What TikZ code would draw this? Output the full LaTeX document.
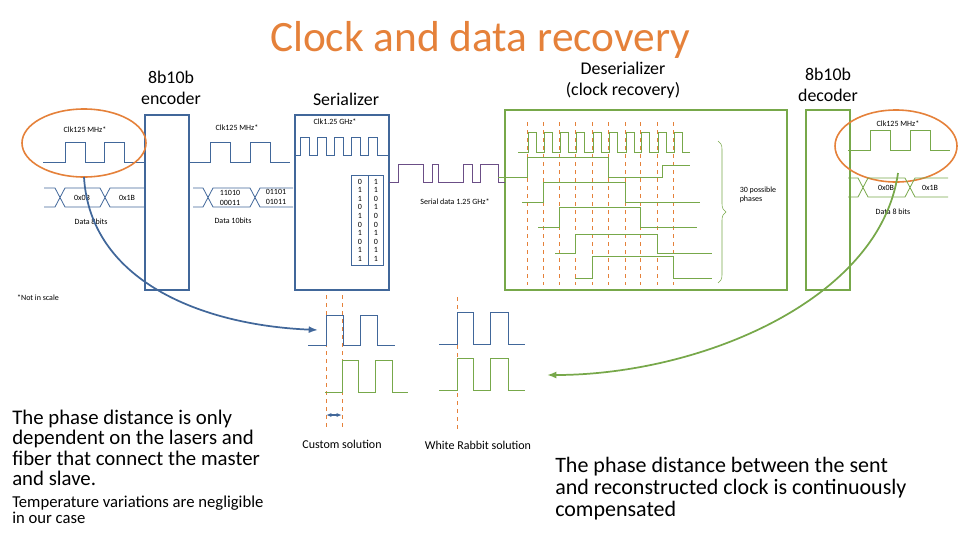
\documentclass[tikz,border=0pt]{standalone}
\usepackage{fontspec}
\setmainfont{Carlito}
\usetikzlibrary{decorations.pathreplacing,arrows.meta}
\definecolor{wrblue}{HTML}{41679A}
\definecolor{wrgreen}{HTML}{77A84A}
\definecolor{wrorange}{HTML}{E5813A}
\definecolor{wrpurple}{HTML}{6B4E86}
\begin{document}
\begin{tikzpicture}[x=0.75pt,y=-0.75pt,
  box/.style={draw=wrblue,line width=1.5pt},
  gbox/.style={draw=wrgreen,line width=1.5pt},
  wave/.style={line width=0.6pt},
  odash/.style={draw=wrorange,dashed,line width=0.6pt},
  tiny/.style={font=\fontsize{6}{7}\selectfont,align=center},
  head/.style={font=\fontsize{13.4}{16}\selectfont,align=center},
  big/.style={font=\fontsize{15.6}{15.2}\selectfont,align=left,anchor=north west}]
\useasboundingbox (0,0) rectangle (960,540);
% title and headings
\node[text=wrorange,font=\fontsize{32.5}{33}\selectfont] (title) at (480,40) {Clock and data recovery};
\node[head] (enc) at (171,88) {8b10b\\encoder};
\node[head] (ser) at (346,99) {Serializer};
\node[head] (des) at (623,80) {Deserializer\\(clock recovery)};
\node[head] (dec) at (828,85) {8b10b\\decoder};
% blocks
\draw[box] (145,115) rectangle (189,290);
\draw[box] (295,115) rectangle (389,290);
\draw[gbox] (505,110) rectangle (787,290);
\draw[gbox] (806,110) rectangle (850,290);
% encoder input
\node[tiny] (clka) at (85,130) {Clk125 MHz*};
\draw[wave,wrblue] (43,162) -- (65,162) -- (65,142) -- (85,142) -- (85,162) -- (104,162) -- (104,142) -- (124,142) -- (124,162) -- (145,162);
\draw[wrorange,line width=1.2pt] (84,143) ellipse (62 and 34);
\draw[wave,wrblue] (44,188) -- (55,188) -- (65,207) -- (100,207) -- (110,188) -- (145,188)
  (44,207) -- (55,207) -- (65,188) -- (100,188) -- (110,207) -- (145,207);
\node[tiny] (da) at (82,198) {0x0B};
\node[tiny] (db) at (127,198) {0x1B};
\node[tiny] (dla) at (91,222) {Data 8bits};
% encoder output
\node[tiny] (clkb) at (237,128) {Clk125 MHz*};
\draw[wave,wrblue] (189,162) -- (210,162) -- (210,142) -- (230,142) -- (230,162) -- (250,162) -- (250,142) -- (270,142) -- (270,162) -- (290,162);
\draw[wave,wrblue] (193,188) -- (203,188) -- (213,207) -- (250,207) -- (260,188) -- (293,188)
  (193,207) -- (203,207) -- (213,188) -- (250,188) -- (260,207) -- (293,207);
\node[tiny] (dc) at (230,198) {11010\\00011};
\node[tiny] (dd) at (276,197) {01101\\01011};
\node[tiny] (dlb) at (233,221) {Data 10bits};
% serializer
\node[tiny] (clkc) at (335,122) {Clk1.25 GHz*};
\draw[wave,wrblue] (295,155) foreach \i in {0,...,4} {-- (300+17*\i,155) -- (300+17*\i,137) -- (309+17*\i,137) -- (309+17*\i,155)} -- (388,155);
\draw[wrblue,line width=0.5pt] (351,175) rectangle (368,265) (368,175) rectangle (383,265);
\foreach \b [count=\k] in {0,1,1,0,1,0,1,0,1,1} \node[tiny,inner sep=0pt] (ba\k) at (360,173+8.6*\k) {\b};
\foreach \b [count=\k] in {1,1,0,1,0,0,1,0,1,1} \node[tiny,inner sep=0pt] (bb\k) at (376,173+8.6*\k) {\b};
\draw[wave,wrpurple] (389,182) -- (398,182) -- (398,164) -- (423,164) -- (423,182) -- (432,182) -- (432,164) -- (438,164) -- (438,182) -- (463,182) -- (463,164) -- (472,164) -- (472,182) -- (480,182) -- (480,164) -- (498,164) -- (498,182) -- (505,182);
\node[tiny] (sd) at (455,202) {Serial data 1.25 GHz*};
% deserializer
\foreach \x in {527,543,559,575,592,608,625,640,657,673} \draw[odash] (\x,122) -- (\x,285);
\draw[wave,wrgreen] (518,152) foreach \x in {527,543,559,575,592,608,625,640,657,673} {-- (\x+1,152) -- (\x+1,132) -- (\x+9,132) -- (\x+9,152)} -- (690,152);
\draw[wave,wrgreen] (498,177) -- (527,177) -- (527,157) -- (608,157) -- (608,177) -- (662,177) -- (662,165) -- (690,165);
\draw[wave,wrgreen] (522,202) -- (543,202) -- (543,182) -- (625,182) -- (625,202) -- (700,202);
\draw[wave,wrgreen] (538,227) -- (559,227) -- (559,207) -- (640,207) -- (640,227) -- (697,227);
\draw[wave,wrgreen] (555,253) -- (575,253) -- (575,234) -- (657,234) -- (657,253) -- (712,253);
\draw[wave,wrgreen] (575,278) -- (592,278) -- (592,256) -- (673,256) -- (673,278) -- (712,278);
\draw[wrgreen,decorate,decoration={brace,amplitude=6pt}] (718,141) -- (718,283);
\node[tiny,align=left] (ph) at (758,195) {30 possible\\phases};
% decoder
\node[tiny] (clkd) at (898,124) {Clk125 MHz*};
\draw[wave,wrgreen] (848,150) -- (870,150) -- (870,130) -- (890,130) -- (890,150) -- (910,150) -- (910,130) -- (930,130) -- (930,150) -- (950,150);
\draw[wrorange,line width=1.2pt] (896,146) ellipse (61 and 36);
\draw[wave,wrgreen] (848,178) -- (858,178) -- (868,197) -- (905,197) -- (915,178) -- (948,178)
  (848,197) -- (858,197) -- (868,178) -- (905,178) -- (915,197) -- (948,197);
\node[tiny] (de) at (886,188) {0x0B};
\node[tiny] (df) at (930,188) {0x1B};
\node[tiny] (dlc) at (893,212) {Data 8 bits};
\node[tiny] (nis) at (38,298) {*Not in scale};
% bottom comparison
\draw[odash] (326,295) -- (326,430) (342,295) -- (342,430) (457,297) -- (457,430);
\draw[wave,wrblue] (308,345) -- (326,345) -- (326,315) -- (343,315) -- (343,345) -- (360,345) -- (360,315) -- (377,315) -- (377,345) -- (395,345);
\draw[wave,wrgreen] (325,392) -- (342,392) -- (342,360) -- (358,360) -- (358,392) -- (375,392) -- (375,360) -- (392,360) -- (392,392) -- (408,392);
\draw[wave,wrblue] (439,344) -- (457,344) -- (457,312) -- (473,312) -- (473,344) -- (490,344) -- (490,312) -- (508,312) -- (508,344) -- (525,344);
\draw[wave,wrgreen] (439,390) -- (457,390) -- (457,358) -- (473,358) -- (473,390) -- (490,390) -- (490,358) -- (508,358) -- (508,390) -- (525,390);
\coordinate (pl) at (326,415);
\coordinate (pr) at (342,415);
\draw[wrblue,line width=1.2pt,{Latex[length=4pt]}-{Latex[length=4pt]}] (pl) -- (pr);
\node[font=\fontsize{9}{10}\selectfont] (cs) at (342,444) {Custom solution};
\node[font=\fontsize{9}{10}\selectfont] (wr) at (478,445) {White Rabbit solution};
% arrows
\coordinate (ea) at (84,177);
\coordinate (eb) at (318,330);
\draw[wrblue,line width=1.3pt,-{Latex[length=7pt]}] (ea) .. controls (90,280) and (200,325) .. (eb);
\coordinate (ec) at (898,173);
\coordinate (ed) at (547,375);
\draw[wrgreen,line width=1.3pt,-{Latex[length=7pt]}] (ec) .. controls (880,300) and (700,375) .. (ed);
% texts
\node[big,inner sep=0pt] (t1) at (12,410) {The phase distance is only\\dependent on the lasers and\\fiber that connect the master\\and slave.};
\node[big,inner sep=0pt,font=\fontsize{12.5}{11.5}\selectfont] (t2) at (12,496) {Temperature variations are negligible\\in our case};
\node[big,inner sep=0pt,font=\fontsize{16.5}{16.5}\selectfont] (t3) at (555,457) {The phase distance between the sent\\and reconstructed clock is continuously\\compensated};
\end{tikzpicture}
\end{document}
